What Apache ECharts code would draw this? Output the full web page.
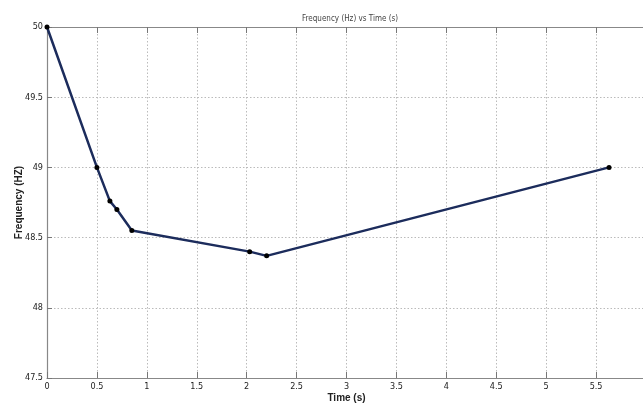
<!DOCTYPE html>
<html>
<head>
<meta charset="utf-8">
<script src="https://cdn.jsdelivr.net/npm/echarts@6/dist/echarts.min.js"></script>
<style>html,body{margin:0;padding:0;background:#fff;}#c{width:643px;height:403px;}</style>
</head>
<body>
<div id="c"></div>
<script>
const timeValues = [0, 0.5, 0.63, 0.7, 0.85, 2.03, 2.2, 5.63];
const freqValues = [50, 49.0, 48.76, 48.7, 48.55, 48.4, 48.37, 49.0];
const xTicks = ['0','0.5','1','1.5','2','2.5','3','3.5','4','4.5','5','5.5'];
const yTicks = ['47.5','48','48.5','49','49.5','50'];

const font = '"Liberation Sans Narrow", "DejaVu Sans Condensed", "Liberation Sans", sans-serif';
const chart = echarts.init(document.getElementById('c'));
const data = timeValues.map((t, i) => [t, freqValues[i]]);
chart.setOption({
  animation: false,
  backgroundColor: '#fff',
  title: {
    text: 'Frequency (Hz) vs Time (s)',
    left: 345, top: 10, textAlign: 'center',
    textStyle: {fontSize: 8, fontWeight: 'normal', color: '#444', fontFamily: font}
  },
  grid: {left: 47, right: -3, top: 27, bottom: 25, containLabel: false, outerBoundsMode: 'none'},
  xAxis: [{
    type: 'value', min: 0, max: 6, interval: 0.5,
    name: 'Time (s)', nameLocation: 'middle', nameGap: 15, nameMoveOverlap: false,
    nameTextStyle: {fontSize: 10, fontWeight: 'bold', color: '#222', fontFamily: 'Liberation Sans, sans-serif'},
    axisLine: {lineStyle: {color: '#888', width: 1.2}},
    axisTick: {inside: true, length: 6, lineStyle: {color: '#777'}},
    axisLabel: {color: '#222', fontSize: 9, margin: 4, fontFamily: font,
      formatter: v => { const s = String(+v.toFixed(1)); return xTicks.includes(s) ? s : ''; }},
    splitLine: {show: true, lineStyle: {color: '#bbb', type: [1.5, 2], width: 1}}
  }, {
    type: 'value', min: 0, max: 6, interval: 0.5, position: 'top',
    axisLine: {show: true, lineStyle: {color: '#888', width: 1.2}},
    axisTick: {show: true, inside: true, length: 6, lineStyle: {color: '#777'}},
    axisLabel: {show: false}, splitLine: {show: false}
  }],
  yAxis: {
    type: 'value', min: 47.5, max: 50, interval: 0.5,
    name: 'Frequency (HZ)', nameLocation: 'middle', nameGap: 23, nameMoveOverlap: false,
    nameTextStyle: {fontSize: 10, fontWeight: 'bold', color: '#222', fontFamily: 'Liberation Sans, sans-serif'},
    axisLine: {show: true, lineStyle: {color: '#888', width: 1.2}},
    axisTick: {show: true, inside: true, length: 5, lineStyle: {color: '#777'}},
    axisLabel: {color: '#222', fontSize: 9, margin: 4, fontFamily: font,
      formatter: v => { const s = String(+v.toFixed(1)); return yTicks.includes(s) ? s : ''; }},
    splitLine: {show: true, lineStyle: {color: '#bbb', type: [1.5, 2], width: 1}}
  },
  series: [{
    type: 'line', data: data,
    lineStyle: {color: '#1c2c5c', width: 2.5},
    symbol: 'circle', symbolSize: 5,
    itemStyle: {color: '#000'},
    z: 5
  }]
});
</script>
</body>
</html>
